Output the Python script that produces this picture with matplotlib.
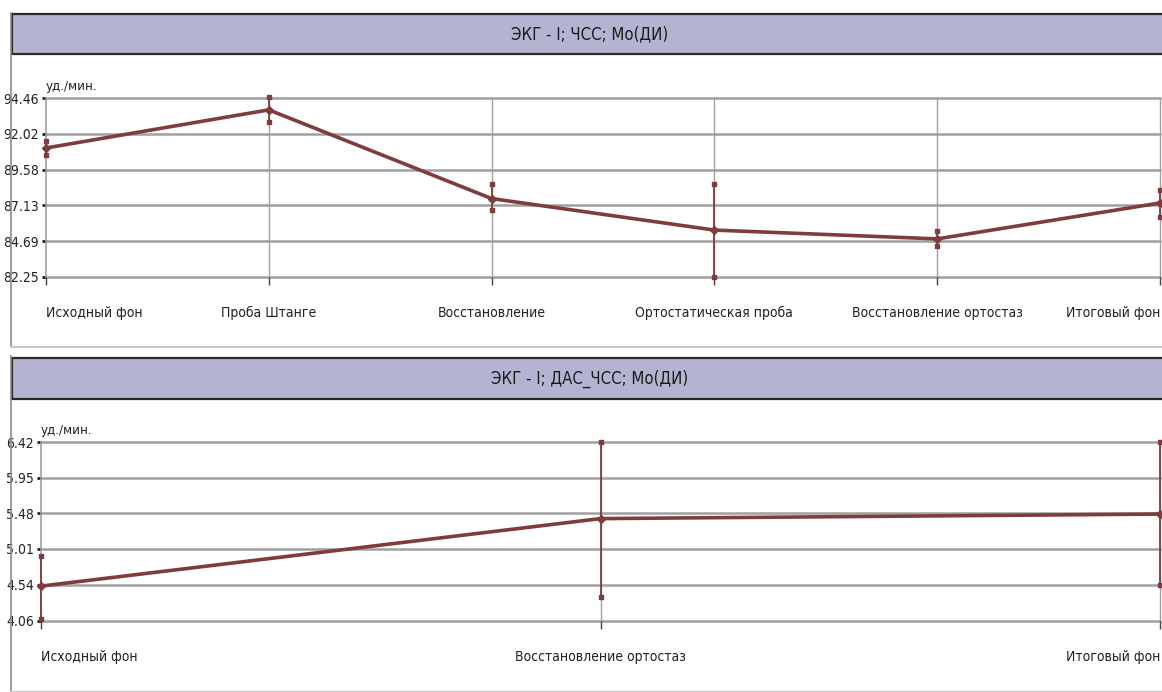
import matplotlib
matplotlib.use("Agg")
import matplotlib.pyplot as plt
from matplotlib.patches import Rectangle
from matplotlib.lines import Line2D

plt.rcParams['font.family'] = ['DejaVu Sans']
plt.rcParams['font.stretch'] = 'condensed'

# --- data ---
top_title = "ЭКГ - I; ЧСС; Mo(ДИ)"
top_cats = ["Исходный фон", "Проба Штанге", "Восстановление",
            "Ортостатическая проба", "Восстановление ортостаз", "Итоговый фон"]
top_mode = [91.05, 93.65, 87.60, 85.45, 84.85, 87.30]
top_low = [90.60, 92.80, 86.85, 82.25, 84.35, 86.35]
top_high = [91.55, 94.50, 88.60, 88.60, 85.40, 88.20]
top_ticks = [82.25, 84.69, 87.13, 89.58, 92.02, 94.46]

bot_title = "ЭКГ - I; ДАС_ЧСС; Mo(ДИ)"
bot_cats = ["Исходный фон", "Восстановление ортостаз", "Итоговый фон"]
bot_mode = [4.52, 5.41, 5.47]
bot_low = [4.08, 4.37, 4.54]
bot_high = [4.92, 6.42, 6.42]
bot_ticks = [4.06, 4.54, 5.01, 5.48, 5.95, 6.42]

unit = "уд./мин."

W, H = 1162, 692
LINE = "#7f3c3c"
GRID = "#a0a0a0"
BAND = "#b4b4d2"

fig = plt.figure(figsize=(W / 100, H / 100), dpi=100)


def px(x0, y0, x1, y1):
    # pixel box -> figure fraction rect
    return [x0 / W, 1 - y1 / H, (x1 - x0) / W, (y1 - y0) / H]


def panel(title, cats, mode, low, high, ticks, box, band_y, frame_y):
    # panel frame and title band
    fig.add_artist(Line2D([11 / W, 11 / W], [1 - frame_y[0] / H, 1 - frame_y[1] / H],
                          color="#8c8c8c", lw=1.2))
    fig.add_artist(Line2D([11 / W, 1], [1 - frame_y[1] / H, 1 - frame_y[1] / H],
                          color="#c8c8c8", lw=1.5))
    b = px(12, band_y[0], W + 2, band_y[1])
    fig.add_artist(Rectangle((b[0], b[1]), b[2], b[3], transform=fig.transFigure,
                             facecolor=BAND, edgecolor="#2a2a2a", lw=1.6))
    fig.text(590 / W, 1 - (band_y[0] + band_y[1]) / 2 / H, title, ha="center", va="center",
             fontsize=12, color="#1a1a1a")

    ax = fig.add_axes(px(*box))
    x = list(range(len(cats)))
    ax.set_xlim(0, len(cats) - 1)
    ax.set_ylim(ticks[0], ticks[-1])
    for s in ["top", "right", "bottom"]:
        ax.spines[s].set_visible(False)
    ax.spines["left"].set_color(GRID)
    ax.spines["left"].set_linewidth(1.2)

    for t in ticks:
        ax.axhline(t, color=GRID, lw=1.8, zorder=1, clip_on=False)
    for xi in x[1:]:
        ax.axvline(xi, color=GRID, lw=1.0, zorder=1, clip_on=False)

    ax.set_yticks(ticks)
    ax.set_yticklabels([f"{t:.2f}" for t in ticks], fontsize=10, color="#222222")
    ax.tick_params(axis="y", length=3, width=2, color="#222222", pad=2)
    ax.set_xticks(x)
    ax.set_xticklabels([])
    ax.tick_params(axis="x", length=6, width=1, color="#444444", direction="out", pad=0)
    for i, c in enumerate(cats):
        ha = "left" if i == 0 else ("right" if i == len(cats) - 1 else "center")
        ax.text(i, -0.2, c, transform=ax.get_xaxis_transform(), ha=ha, va="center",
                fontsize=10, color="#222222")

    ax.text(0, 1.03, unit, transform=ax.transAxes, ha="left", va="bottom",
            fontsize=9.5, color="#222222")

    ax.plot(x, mode, color=LINE, lw=2.6, zorder=3, clip_on=False)
    ax.vlines(x, low, high, color=LINE, lw=1.3, zorder=3, clip_on=False)
    ax.plot(x, low, ls="none", marker="s", ms=3, color=LINE, zorder=4, clip_on=False)
    ax.plot(x, high, ls="none", marker="s", ms=3, color=LINE, zorder=4, clip_on=False)
    ax.plot(x, mode, ls="none", marker="D", ms=4, color=LINE, zorder=4, clip_on=False)
    return ax


panel(top_title, top_cats, top_mode, top_low, top_high, top_ticks,
      (46, 98, 1160, 277), (14, 54), (13, 347))
panel(bot_title, bot_cats, bot_mode, bot_low, bot_high, bot_ticks,
      (41, 442, 1160, 621), (358, 399), (356, 692))

fig.savefig("out.png", dpi=100)
